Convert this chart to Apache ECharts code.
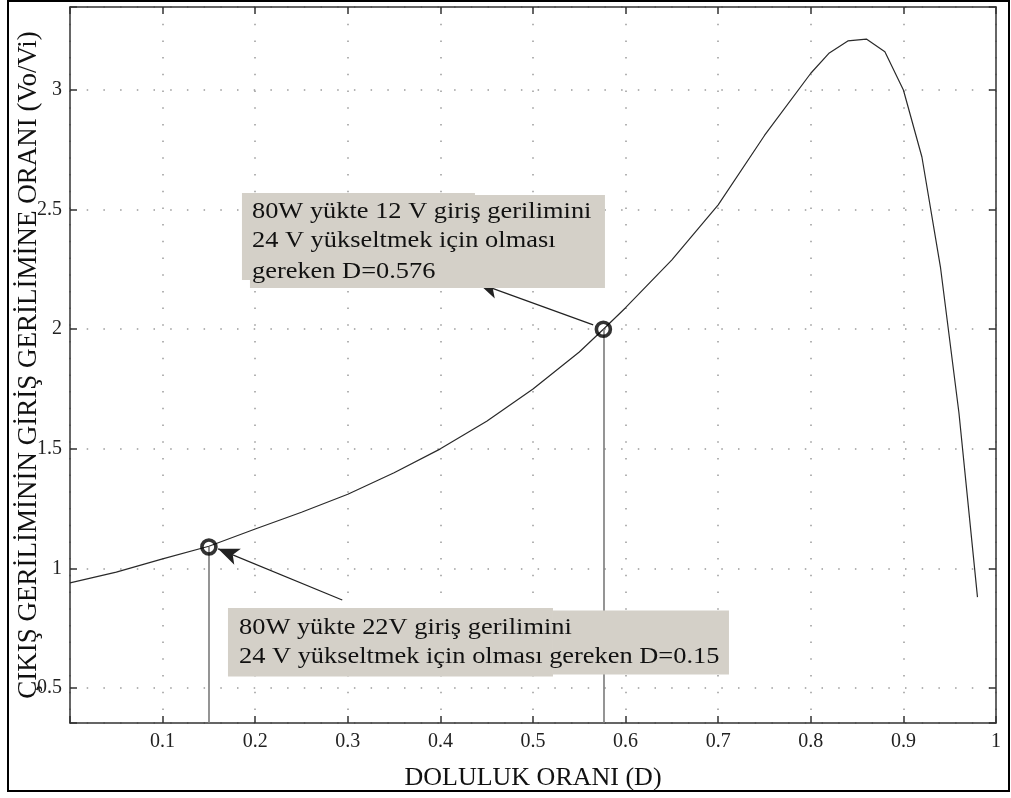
<!DOCTYPE html>
<html>
<head>
<meta charset="utf-8">
<title>Doluluk oranı - gerilim oranı</title>
<script src="https://cdn.jsdelivr.net/npm/echarts@6/dist/echarts.min.js"></script>
<style>
html, body { margin: 0; padding: 0; background: #fff; }
#main { width: 1011px; height: 798px; }
</style>
</head>
<body>
<div id="main"></div>
<script>
// curve
var dutyRatio = [0, 0.05, 0.1, 0.15, 0.2, 0.25, 0.3, 0.35, 0.4, 0.45, 0.5, 0.55, 0.576, 0.6, 0.65,
                 0.7, 0.75, 0.8, 0.82, 0.84, 0.86, 0.88, 0.9, 0.92, 0.94, 0.96, 0.98];
var gainRatio = [0.94, 0.985, 1.04, 1.093, 1.165, 1.235, 1.31, 1.40, 1.50, 1.615, 1.75, 1.905, 2.0, 2.09, 2.29,
                 2.52, 2.81, 3.07, 3.155, 3.205, 3.213, 3.16, 3.0, 2.72, 2.26, 1.65, 0.88];
// operating points marked with circles
var markedDuty = [0.15, 0.576];
var markedGain = [1.09, 2.0];
// tick labels
var xTickLabels = [0.1, 0.2, 0.3, 0.4, 0.5, 0.6, 0.7, 0.8, 0.9, 1];
var yTickLabels = [0.5, 1, 1.5, 2, 2.5, 3];

var yMin = 0.354, yMax = 3.347;
var serif = '"Liberation Serif", "Times New Roman", serif';
var frameColor = '#333';

var chart = echarts.init(document.getElementById('main'));

function tickFormatter(list) {
    return function (v) {
        for (var i = 0; i < list.length; i++) {
            if (Math.abs(list[i] - v) < 1e-6) return String(list[i]);
        }
        return '';
    };
}

var curve = dutyRatio.map(function (d, i) { return [d, gainRatio[i]]; });
var marks = markedDuty.map(function (d, i) { return [d, markedGain[i]]; });

var dotted = { show: true, lineStyle: { color: '#9a9a9a', width: 1.5, type: [1.5, 15.2] } };
var axisLine = { show: true, onZero: false, lineStyle: { color: frameColor, width: 1.5 } };
var axisTick = { show: true, inside: true, length: 7, lineStyle: { color: frameColor, width: 1.5 } };

var grayLine = { color: '#7a7a7a', width: 1.6, type: 'solid' };
var arrowLine = { color: '#222', width: 1.2, type: 'solid' };

var option = {
    animation: false,
    backgroundColor: '#fff',
    grid: { left: 70, right: 15, top: 7, bottom: 75, containLabel: false, outerBoundsMode: 'none' },
    xAxis: [{
        type: 'value', position: 'bottom', min: 0, max: 1, interval: 0.1,
        axisLine: axisLine, axisTick: axisTick, splitLine: dotted,
        axisLabel: { formatter: tickFormatter(xTickLabels), margin: 9,
                     fontFamily: serif, fontSize: 20, color: '#222' },
        name: 'DOLULUK ORANI (D)', nameLocation: 'middle', nameGap: 42, nameMoveOverlap: false,
        nameTextStyle: { fontFamily: serif, fontSize: 26, color: '#111' }
    }, {
        type: 'value', position: 'top', min: 0, max: 1, interval: 0.1,
        axisLine: axisLine, axisTick: axisTick, splitLine: { show: false },
        axisLabel: { show: false }
    }],
    yAxis: [{
        type: 'value', position: 'left', min: yMin, max: yMax, splitNumber: 6,
        axisLine: axisLine, axisTick: axisTick, splitLine: dotted,
        axisLabel: { formatter: tickFormatter(yTickLabels), margin: 8,
                     fontFamily: serif, fontSize: 20, color: '#222' },
        name: 'ÇIKIŞ GERİLİMİNİN GİRİŞ GERİLİMİNE ORANI (Vo/Vi)',
        nameLocation: 'middle', nameRotate: 90, nameGap: 28, nameMoveOverlap: false,
        nameTextStyle: { fontFamily: serif, fontSize: 27, color: '#111' }
    }, {
        type: 'value', position: 'right', min: yMin, max: yMax, splitNumber: 6,
        axisLine: axisLine, axisTick: axisTick, splitLine: { show: false },
        axisLabel: { show: false }
    }],
    series: [{
        type: 'line',
        data: curve,
        showSymbol: false,
        silent: true,
        z: 3,
        lineStyle: { color: '#2a2a2a', width: 1.2 },
        markLine: {
            silent: true,
            animation: false,
            symbol: ['none', 'none'],
            label: { show: false },
            emphasis: { disabled: true },
            data: [
                [{ coord: [markedDuty[0], markedGain[0]], lineStyle: grayLine }, { coord: [markedDuty[0], yMin] }],
                [{ coord: [markedDuty[1], markedGain[1]], lineStyle: grayLine }, { coord: [markedDuty[1], yMin] }],
                [{ coord: [0.565, 2.018], symbol: 'none', lineStyle: arrowLine },
                 { coord: [0.4406, 2.193], symbol: 'arrow', symbolSize: [13, 21] }],
                [{ coord: [0.294, 0.868], symbol: 'none', lineStyle: arrowLine },
                 { coord: [0.160, 1.082], symbol: 'arrow', symbolSize: [13, 21] }]
            ]
        }
    }, {
        type: 'scatter',
        data: marks,
        symbol: 'circle',
        symbolSize: 14,
        silent: true,
        z: 5,
        itemStyle: { color: 'rgba(0,0,0,0)', borderColor: '#000', borderWidth: 3.6 }
    }]
};
chart.setOption(option);

// text boxes, anchored at their top-left corner in data coordinates
var notes = [{
    anchor: [0.1857, 2.569],
    pieces: [[0, 0, 233, 87], [8, 2, 355, 93]],
    textX: 10, lineY: [19, 47.5, 78.5],
    lines: ['80W yükte 12 V giriş gerilimini', '24 V yükseltmek için olması', 'gereken D=0.576']
}, {
    anchor: [0.1706, 0.8344],
    pieces: [[0, 0, 325, 68.5], [325, 2.5, 176, 64]],
    textX: 11, lineY: [19.5, 49],
    lines: ['80W yükte 22V giriş gerilimini', '24 V yükseltmek için olması gereken D=0.15']
}];

var graphics = [{
    type: 'rect', silent: true, z: 0,
    shape: { x: 8, y: 1, width: 1001, height: 790 },
    style: { fill: 'none', stroke: '#000', lineWidth: 2 }
}];
notes.forEach(function (n) {
    var p = chart.convertToPixel({ xAxisIndex: 0, yAxisIndex: 0 }, n.anchor);
    n.pieces.forEach(function (r) {
        graphics.push({
            type: 'rect', silent: true, z: 10,
            shape: { x: p[0] + r[0], y: p[1] + r[1], width: r[2], height: r[3] },
            style: { fill: '#d4d0c8' }
        });
    });
    n.lines.forEach(function (t, i) {
        graphics.push({
            type: 'text', silent: true, z: 11,
            x: p[0] + n.textX, y: p[1] + n.lineY[i], scaleX: 1.1,
            style: { text: t, fill: '#111', font: '24px ' + serif, textAlign: 'left', textVerticalAlign: 'middle', verticalAlign: 'middle' }
        });
    });
});
chart.setOption({ graphic: graphics });
</script>
</body>
</html>
